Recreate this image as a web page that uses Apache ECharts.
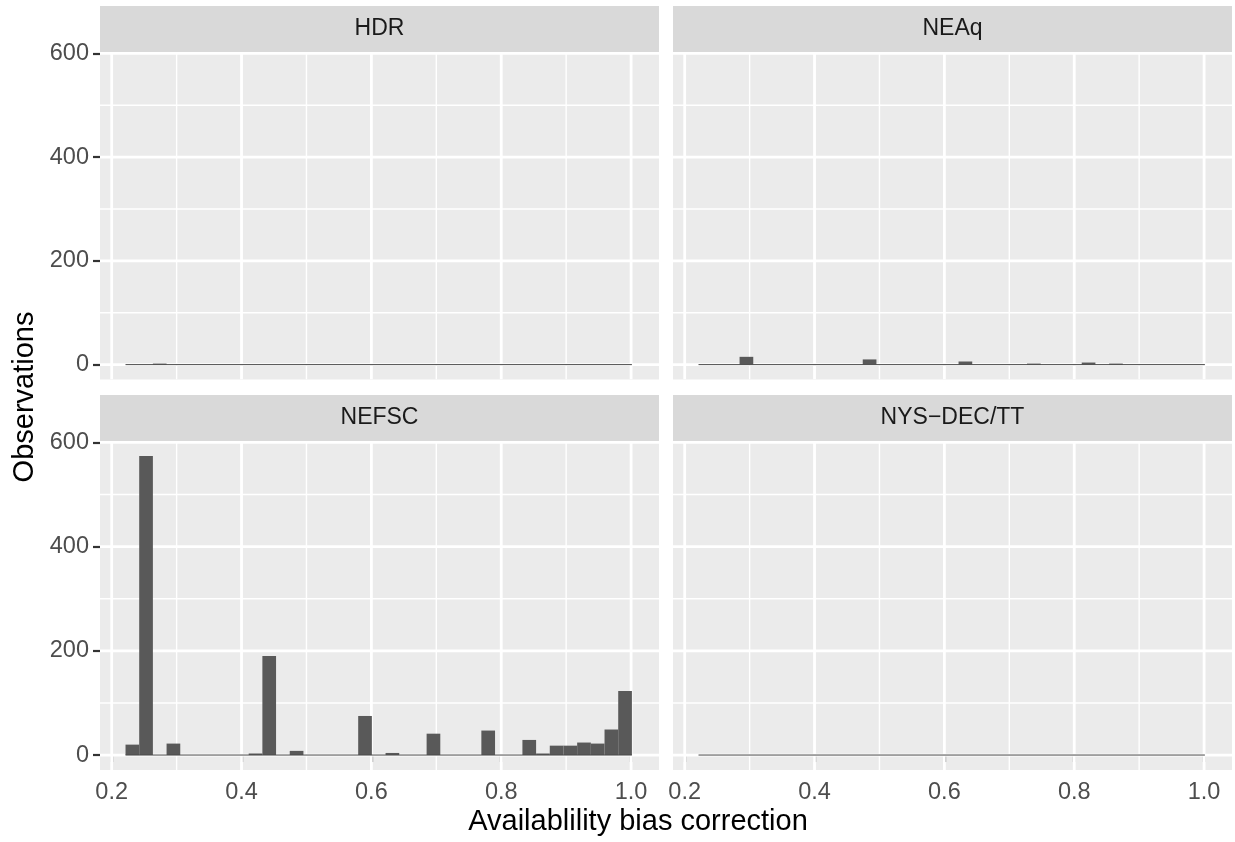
<!DOCTYPE html>
<html>
<head>
<meta charset="utf-8">
<script src="https://cdn.jsdelivr.net/npm/echarts@6/dist/echarts.min.js"></script>
<style>
  html, body { margin: 0; padding: 0; background: #ffffff; }
  #chart { width: 1235px; height: 842px; }
</style>
</head>
<body>
<div id="chart"></div>
<script>
// Facet titles, in panel order (row by row)
const facetNames = ['HDR', 'NEAq', 'NEFSC', 'NYS\u2212DEC/TT'];

// Histogram bins: lower edge of the first bin and the common bin width
const binStart = 0.2213;
const binWidth = 0.02108;

// Observation counts per bin (37 bins) for each facet
const countsHDR   = [0, 0, 2, 0, 0, 0, 0, 0, 0, 0, 0, 0, 0, 0, 0, 0, 0, 0, 0, 0, 0, 0, 0, 0, 0, 0, 0, 0, 0, 0, 0, 0, 0, 0, 0, 0, 0];
const countsNEAq  = [0, 0, 0, 15, 0, 0, 0, 0, 0, 0, 0, 0, 10, 0, 0, 0, 0, 0, 0, 6, 0, 0, 0, 0, 2, 0, 0, 0, 4, 0, 2, 0, 0, 0, 0, 0, 0];
const countsNEFSC = [20, 574, 0, 22, 0, 0, 0, 0, 0, 3, 190, 0, 8, 0, 0, 0, 0, 75, 0, 4, 0, 0, 41, 0, 0, 0, 47, 0, 0, 29, 3, 18, 18, 24, 22, 49, 123];
const countsNYS   = [0, 0, 0, 0, 0, 0, 0, 0, 0, 0, 0, 0, 0, 0, 0, 0, 0, 0, 0, 0, 0, 0, 0, 0, 0, 0, 0, 0, 0, 0, 0, 0, 0, 0, 0, 0, 0];

// Axis breaks
const xBreaks = [0.2, 0.4, 0.6, 0.8, 1.0];
const xMinorBreaks = [0.3, 0.5, 0.7, 0.9];
const yBreaks = [0, 200, 400, 600];
const yMinorBreaks = [100, 300, 500];

const xTitle = 'Availablility bias correction';
const yTitle = 'Observations';

const facetCounts = [countsHDR, countsNEAq, countsNEFSC, countsNYS];

// Panel geometry (pixels)
const panelW = 559;
const panels = [
  { left: 100, top: 52,  height: 327.5, row: 0, col: 0 },
  { left: 673, top: 52,  height: 327.5, row: 0, col: 1 },
  { left: 100, top: 441, height: 329,   row: 1, col: 0 },
  { left: 673, top: 441, height: 329,   row: 1, col: 1 }
];
const stripH = 46;
const xRange = [0.182, 1.043];
const yRange = [-28.7, 602.7];

const FONT = '"Liberation Sans", Arial, Helvetica, sans-serif';
const PANEL_BG = '#EBEBEB';
const STRIP_BG = '#D9D9D9';
const BAR_FILL = '#595959';
const AXIS_TEXT = '#4D4D4D';
const TICK = '#333333';

function binRows(counts) {
  return counts.map((n, i) => [binStart + i * binWidth, binStart + (i + 1) * binWidth, n]);
}

function gridRows() {
  const rows = [];
  xBreaks.forEach(v => rows.push([v, 0, 1]));
  xMinorBreaks.forEach(v => rows.push([v, 0, 0]));
  yBreaks.forEach(v => rows.push([v, 1, 1]));
  yMinorBreaks.forEach(v => rows.push([v, 1, 0]));
  return rows;
}

function renderGridLine(params, api) {
  const cs = params.coordSys;
  const v = api.value(0);
  const dir = api.value(1);
  const major = api.value(2);
  let shape;
  if (dir === 0) {
    const px = api.coord([v, 0])[0];
    shape = { x1: px, y1: cs.y, x2: px, y2: cs.y + cs.height };
  } else {
    const py = api.coord([xRange[0], v])[1];
    shape = { x1: cs.x, y1: py, x2: cs.x + cs.width, y2: py };
  }
  return {
    type: 'line',
    shape: shape,
    style: { stroke: '#FFFFFF', lineWidth: major ? 2.8 : 1.4 }
  };
}

function renderBar(params, api) {
  const lo = api.value(0), hi = api.value(1), n = api.value(2);
  if (!n) return null;
  const a = api.coord([lo, n]);
  const b = api.coord([hi, 0]);
  return {
    type: 'rect',
    shape: { x: a[0], y: a[1], width: b[0] - a[0], height: b[1] - a[1] },
    style: { fill: BAR_FILL }
  };
}

const grids = [], xAxes = [], yAxes = [], series = [], graphics = [];

panels.forEach((p, k) => {
  grids.push({
    left: p.left, top: p.top, width: panelW, height: p.height,
    show: true, backgroundColor: PANEL_BG, borderWidth: 0
  });
  const showX = p.row === 1;
  const showY = p.col === 0;
  xAxes.push({
    type: 'value', gridIndex: k, min: xRange[0], max: xRange[1],
    axisLine: { show: false },
    splitLine: { show: false },
    axisTick: {
      show: showX, customValues: xBreaks, length: 7,
      lineStyle: { color: TICK, width: 2.2 }
    },
    axisLabel: {
      show: showX, customValues: xBreaks, margin: 11,
      color: AXIS_TEXT, fontSize: 23.5, fontFamily: FONT,
      formatter: v => v.toFixed(1)
    }
  });
  yAxes.push({
    type: 'value', gridIndex: k, min: yRange[0], max: yRange[1],
    axisLine: { show: false },
    splitLine: { show: false },
    axisTick: {
      show: showY, customValues: yBreaks, length: 7,
      lineStyle: { color: TICK, width: 2.2 }
    },
    axisLabel: {
      show: showY, customValues: yBreaks, margin: 11,
      color: AXIS_TEXT, fontSize: 23.5, fontFamily: FONT
    }
  });

  // white grid lines
  series.push({
    type: 'custom', xAxisIndex: k, yAxisIndex: k, z: 1, silent: true,
    renderItem: renderGridLine, data: gridRows(), clip: true
  });
  // histogram bars
  const rows = binRows(facetCounts[k]);
  series.push({
    type: 'custom', xAxisIndex: k, yAxisIndex: k, z: 2, silent: true,
    renderItem: renderBar, encode: { x: [0, 1], y: 2 }, data: rows
  });
  // zero-height bins show as a thin line along the baseline
  series.push({
    type: 'line', xAxisIndex: k, yAxisIndex: k, z: 3, silent: true,
    symbol: 'none',
    lineStyle: { color: '#4A4A4A', width: 1 },
    data: [[rows[0][0], 0], [rows[rows.length - 1][1], 0]]
  });

  // facet strip
  const stripTop = p.top - stripH;
  graphics.push({
    type: 'rect', silent: true, z: 0,
    shape: { x: p.left, y: stripTop, width: panelW, height: stripH },
    style: { fill: STRIP_BG }
  });
  graphics.push({
    type: 'text', silent: true, z: 1,
    x: p.left + panelW / 2, y: stripTop + stripH / 2,
    style: {
      text: facetNames[k], fill: '#1A1A1A', fontSize: 23, fontFamily: FONT,
      align: 'center', verticalAlign: 'middle'
    }
  });
});

// axis titles
graphics.push({
  type: 'text', silent: true,
  x: 638, y: 822,
  style: {
    text: xTitle, fill: '#000000', fontSize: 29, fontFamily: FONT,
    align: 'center', verticalAlign: 'middle'
  }
});
graphics.push({
  type: 'text', silent: true,
  x: 25, y: 397,
  rotation: Math.PI / 2,
  style: {
    text: yTitle, fill: '#000000', fontSize: 29, fontFamily: FONT,
    align: 'center', verticalAlign: 'middle'
  }
});

const chart = echarts.init(document.getElementById('chart'), null, { renderer: 'canvas' });
chart.setOption({
  animation: false,
  backgroundColor: '#FFFFFF',
  grid: grids,
  xAxis: xAxes,
  yAxis: yAxes,
  series: series,
  graphic: graphics
});
</script>
</body>
</html>
